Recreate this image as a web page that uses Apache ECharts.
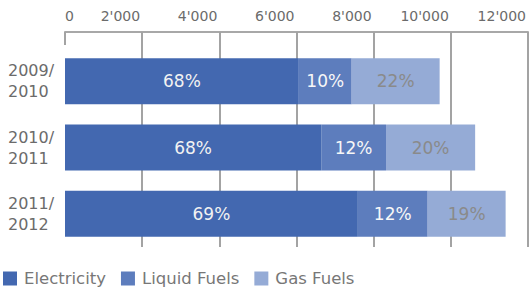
<!DOCTYPE html>
<html>
<head>
<meta charset="utf-8">
<script src="https://cdn.jsdelivr.net/npm/echarts@6/dist/echarts.min.js"></script>
<style>
  html, body { margin: 0; padding: 0; background: #fff; }
  #main { width: 529px; height: 291px; }
</style>
</head>
<body>
<div id="main"></div>
<script>
// data
const categories = ['2009/\n2010', '2010/\n2011', '2011/\n2012'];
const electricity = [6060, 6640, 7590];
const liquidFuels = [1370, 1680, 1810];
const gasFuels = [2280, 2310, 2020];
const electricityPct = ['68%', '68%', '69%'];
const liquidPct = ['10%', '12%', '12%'];
const gasPct = ['22%', '20%', '19%'];
const tickLabels = ['0', "2'000", "4'000", "6'000", "8'000", "10'000", "12'000"];

const font = 'DejaVu Sans';
const lineCol = '#a3a3a3';

const chart = echarts.init(document.getElementById('main'), null, { renderer: 'svg', width: 529, height: 291 });

function seg(name, data, pct, color, labelColor) {
  return {
    name: name,
    type: 'bar',
    stack: 't',
    barWidth: 46,
    data: data,
    itemStyle: { color: color },
    label: {
      show: true,
      position: 'inside',
      color: labelColor,
      fontSize: 17,
      formatter: (p) => pct[p.dataIndex]
    }
  };
}

chart.setOption({
  animation: false,
  textStyle: { fontFamily: font },
  grid: [
    // bars
    { left: 65, right: 1, top: 48, bottom: 44, outerBoundsMode: 'none' },
    // axis frame on top: line, ticks, vertical lines
    { left: 65, right: 1, top: 32, bottom: 44, outerBoundsMode: 'none' }
  ],
  legend: {
    left: 3, top: 270, padding: 0, icon: 'rect', itemWidth: 14, itemHeight: 14, itemGap: 15,
    textStyle: { color: '#777', fontSize: 16.5, fontFamily: font, padding: [0, 0, 0, 2] },
    data: ['Electricity', 'Liquid Fuels', 'Gas Fuels']
  },
  xAxis: [
    { type: 'value', gridIndex: 0, min: 0, max: 12000, interval: 2000, show: false },
    {
      type: 'value', gridIndex: 1, position: 'top', min: 0, max: 12000, interval: 2000,
      axisLine: { show: true, onZero: false, lineStyle: { color: '#a8a8a8', width: 2 } },
      axisTick: { show: true, inside: true, length: 13, lineStyle: { color: lineCol, width: 2 } },
      splitLine: { show: true, showMinLine: false, showMaxLine: true, lineStyle: { color: lineCol, width: 2 } },
      axisLabel: {
        color: '#6b6b6b', fontSize: 14, margin: 9, align: 'right', alignMinLabel: 'left',
        padding: [0, 2, 0, 0], formatter: (v) => tickLabels[Math.round(v / 2000)]
      }
    }
  ],
  yAxis: [
    {
      type: 'category', gridIndex: 0, inverse: true, data: categories,
      axisLine: { show: false }, axisTick: { show: false },
      axisLabel: { color: '#6b6b6b', fontSize: 16, lineHeight: 21, align: 'left', margin: 57 }
    },
    { type: 'value', gridIndex: 1, show: false, splitLine: { show: false } }
  ],
  series: [
    seg('Electricity', electricity, electricityPct, '#4368b0', '#f2f2f2'),
    seg('Liquid Fuels', liquidFuels, liquidPct, '#5d7dbd', '#f7f7f7'),
    seg('Gas Fuels', gasFuels, gasPct, '#95abd6', '#8a8a8a')
  ]
});
</script>
</body>
</html>
